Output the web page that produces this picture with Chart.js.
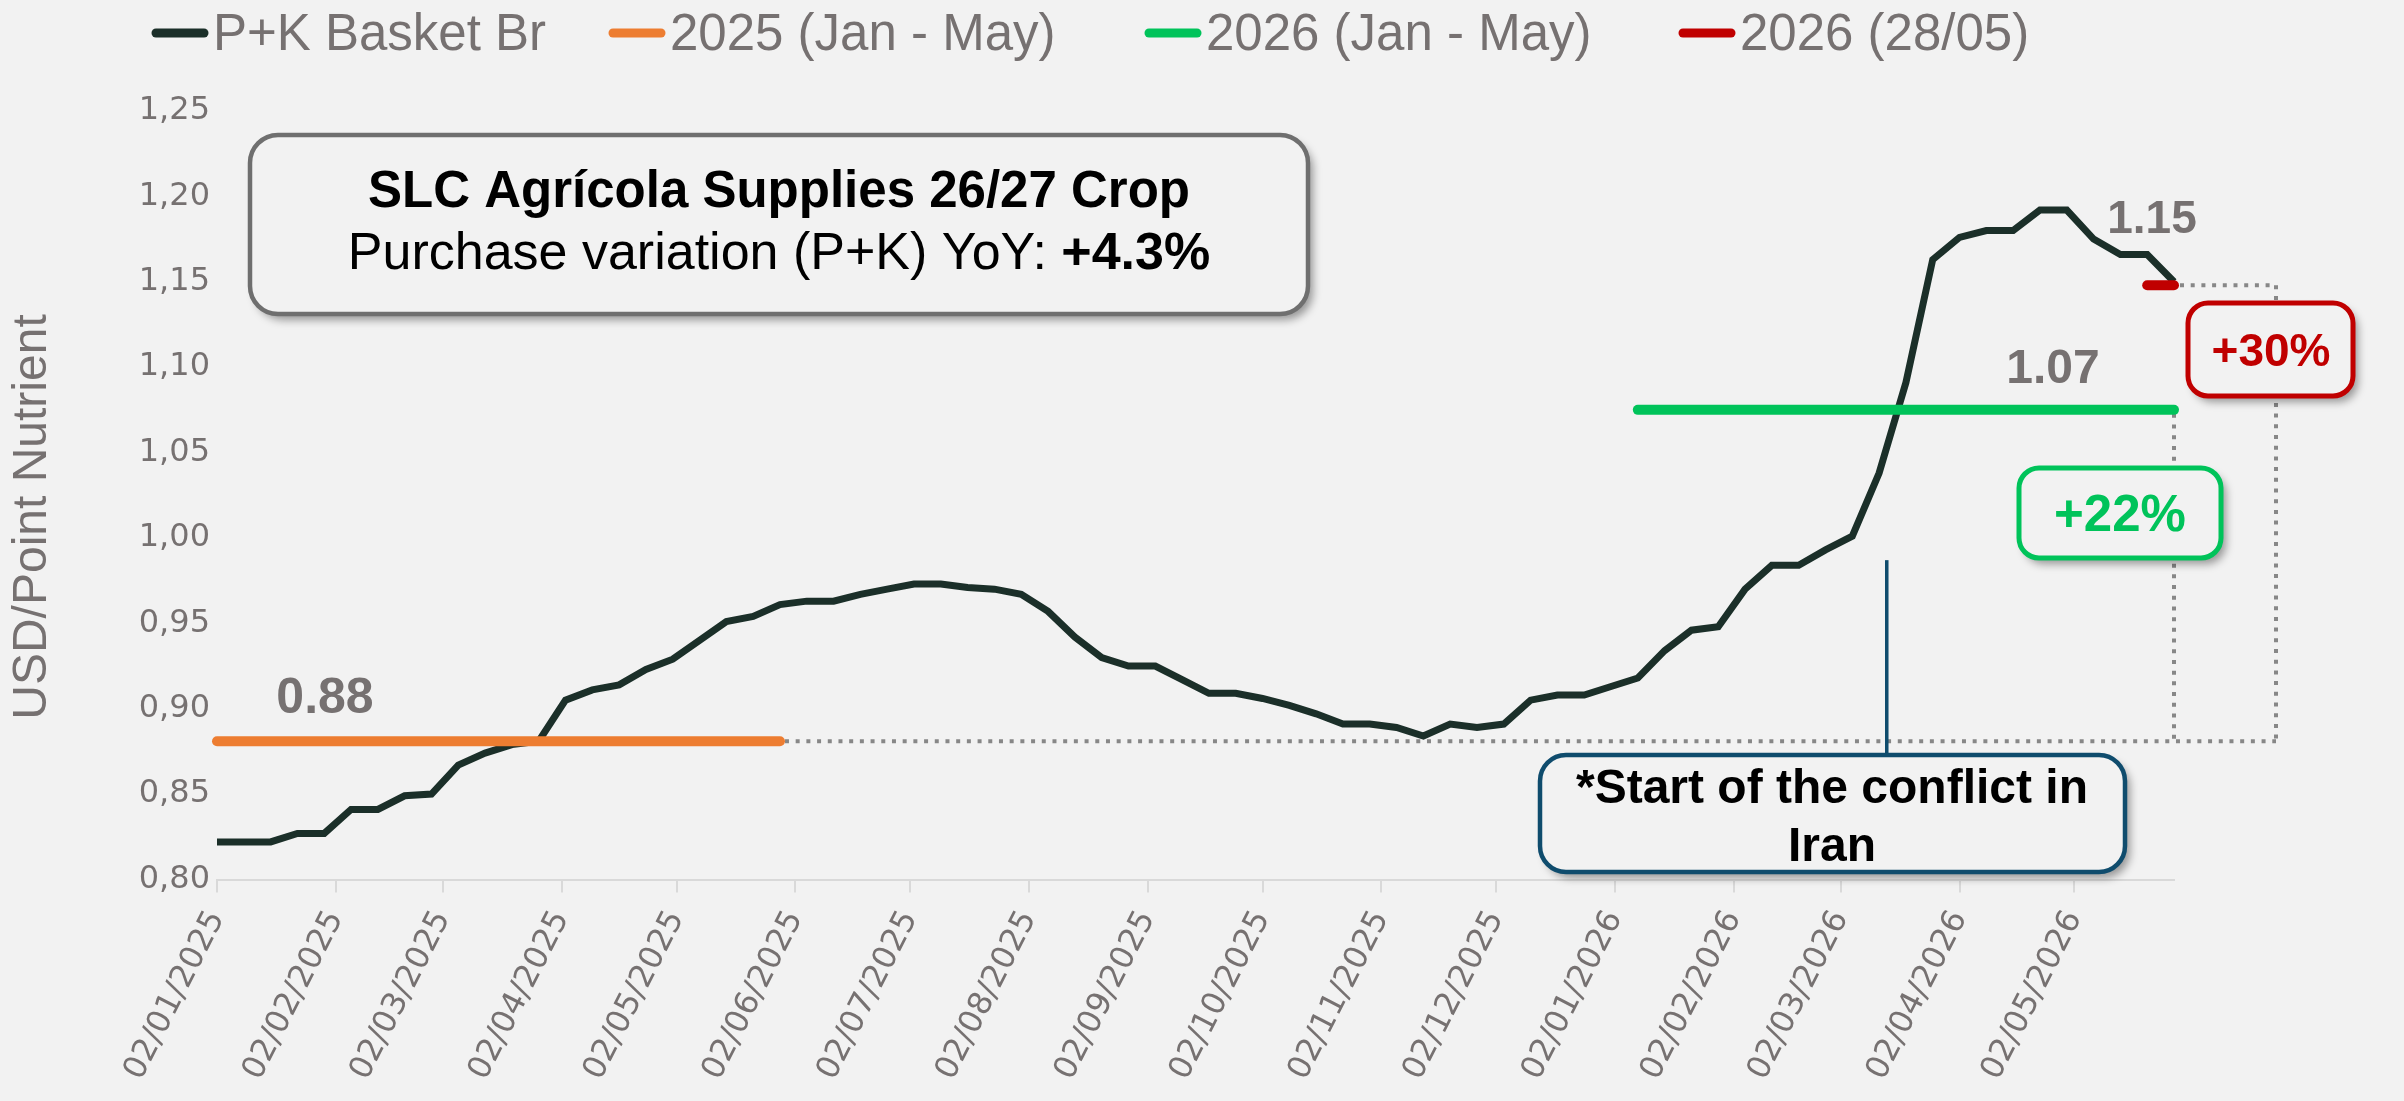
<!DOCTYPE html>
<html><head><meta charset="utf-8">
<script src="https://cdn.jsdelivr.net/npm/chart.js@4.4.1/dist/chart.umd.min.js"></script>
<style>
html,body{margin:0;padding:0;background:#f2f2f2;}
canvas{display:block;}
</style></head><body>
<canvas id="c" width="2404" height="1101"></canvas>
<script>
// ---------- DATA ----------
const weekDates = [
'02/01/2025','09/01/2025','16/01/2025','23/01/2025','30/01/2025',
'06/02/2025','13/02/2025','20/02/2025','27/02/2025',
'06/03/2025','13/03/2025','20/03/2025','27/03/2025',
'03/04/2025','10/04/2025','17/04/2025','24/04/2025',
'01/05/2025','08/05/2025','15/05/2025','22/05/2025','29/05/2025',
'05/06/2025','12/06/2025','19/06/2025','26/06/2025',
'03/07/2025','10/07/2025','17/07/2025','24/07/2025','31/07/2025',
'07/08/2025','14/08/2025','21/08/2025','28/08/2025',
'04/09/2025','11/09/2025','18/09/2025','25/09/2025',
'02/10/2025','09/10/2025','16/10/2025','23/10/2025','30/10/2025',
'06/11/2025','13/11/2025','20/11/2025','27/11/2025',
'04/12/2025','11/12/2025','18/12/2025','25/12/2025',
'01/01/2026','08/01/2026','15/01/2026','22/01/2026','29/01/2026',
'05/02/2026','12/02/2026','19/02/2026','26/02/2026',
'05/03/2026','12/03/2026','19/03/2026','26/03/2026',
'02/04/2026','09/04/2026','16/04/2026','23/04/2026','30/04/2026',
'07/05/2026','14/05/2026','21/05/2026','28/05/2026'
];
const basketValues = [
0.822,0.822,0.822,0.827,0.827,
0.841,0.841,0.849,0.850,
0.867,0.874,0.879,0.881,
0.905,0.911,0.914,0.923,
0.929,0.940,0.951,0.954,0.961,
0.963,0.963,0.967,0.970,
0.973,0.973,0.971,0.970,0.967,
0.957,0.942,0.930,0.925,
0.925,0.917,0.909,0.909,
0.906,0.902,0.897,0.891,0.891,
0.889,0.884,0.891,0.889,
0.891,0.905,0.908,0.908,
0.913,0.918,0.934,0.946,0.948,
0.970,0.984,0.984,0.993,
1.001,1.038,1.091,1.163,
1.176,1.180,1.180,1.192,1.192,
1.175,1.166,1.166,1.150
];
const avg2025Dates = ['02/01/2025','29/05/2025'];
const avg2025Value = 0.881;
const avg2026Dates = ['08/01/2026','28/05/2026'];
const avg2026Value = 1.075;
const last2026Dates = ['21/05/2026','28/05/2026'];
const last2026Value = 1.148;
const seriesNames = ['P+K Basket Br','2025 (Jan - May)','2026 (Jan - May)','2026 (28/05)'];
const tickLabels = ['02/01/2025','02/02/2025','02/03/2025','02/04/2025','02/05/2025','02/06/2025',
'02/07/2025','02/08/2025','02/09/2025','02/10/2025','02/11/2025','02/12/2025',
'02/01/2026','02/02/2026','02/03/2026','02/04/2026','02/05/2026'];
const yMin = 0.80, yMax = 1.25, yStep = 0.05;
const conflictDate = '14/03/2026';
const conflictTopValue = 0.987;
const labelAvg2025 = '0.88', labelAvg2026 = '1.07', labelLast = '1.15';
const pctAvg2026 = '+22%', pctLast = '+30%';
const infoTitle = 'SLC Agrícola Supplies 26/27 Crop';
const infoLine = 'Purchase variation (P+K) YoY: ';
const infoValue = '+4.3%';
const conflictText = ['*Start of the conflict in', 'Iran'];
const yTitle = 'USD/Point Nutrient';

// ---------- STYLE ----------
const colors = ['#1b2f29', '#ed7d31', '#00c35a', '#c00000'];
const legendX = [151, 608, 1144, 1678];
const grayText = '#767171';
const dotGray = '#878787';
const conflictBlue = '#0f4c6d';
const SANS = "'Liberation Sans', Arial, sans-serif";
const TICKF = "'DejaVu Sans', sans-serif";

function dayIndex(s) {
  const [d, m, y] = s.split('/').map(Number);
  return Math.round((Date.UTC(y, m - 1, d) - Date.UTC(2025, 0, 2)) / 86400000);
}
const pts = (dates, vals) => dates.map((d, i) => ({x: dayIndex(d), y: Array.isArray(vals) ? vals[i] : vals}));

function roundBox(ctx, x, y, w, h, r, stroke, lw) {
  ctx.save();
  ctx.shadowColor = 'rgba(0,0,0,0.38)';
  ctx.shadowBlur = 9;
  ctx.shadowOffsetX = 5;
  ctx.shadowOffsetY = 6;
  ctx.beginPath();
  ctx.roundRect(x, y, w, h, r);
  ctx.fillStyle = '#f2f2f2';
  ctx.fill();
  ctx.shadowColor = 'transparent';
  ctx.lineWidth = lw;
  ctx.strokeStyle = stroke;
  ctx.stroke();
  ctx.restore();
}
function runs(ctx, parts, cx, base) {
  let total = 0;
  parts.forEach(p => { ctx.font = p.font; p.w = ctx.measureText(p.text).width; total += p.w; });
  let x = cx - total / 2;
  ctx.textAlign = 'left';
  ctx.textBaseline = 'alphabetic';
  parts.forEach(p => { ctx.font = p.font; ctx.fillStyle = p.color; ctx.fillText(p.text, x, base); x += p.w; });
}
function dotted(ctx, x1, y1, x2, y2) {
  ctx.save();
  ctx.strokeStyle = dotGray;
  ctx.lineWidth = 4;
  ctx.setLineDash([4, 6.7]);
  ctx.beginPath();
  ctx.moveTo(x1, y1); ctx.lineTo(x2, y2);
  ctx.stroke();
  ctx.restore();
}

const decor = {
  id: 'decor',
  beforeDatasetsDraw(chart) {
    const ctx = chart.ctx, xs = chart.scales.x, ys = chart.scales.y;
    const xEnd = xs.getPixelForValue(xs.max);
    const xBr = xEnd + 102;
    const y88 = ys.getPixelForValue(avg2025Value);
    const y107 = ys.getPixelForValue(avg2026Value);
    const y115 = ys.getPixelForValue(last2026Value);
    dotted(ctx, xs.getPixelForValue(dayIndex(avg2025Dates[1])) + 5, y88, xBr, y88);
    dotted(ctx, xEnd, y107 + 4, xEnd, y88);
    dotted(ctx, xEnd + 6, y115, xBr, y115);
    dotted(ctx, xBr, y115, xBr, y88);
  },
  afterDatasetsDraw(chart) {
    const ctx = chart.ctx, xs = chart.scales.x, ys = chart.scales.y;
    const xEnd = xs.getPixelForValue(xs.max);
    const y88 = ys.getPixelForValue(avg2025Value);
    const y107 = ys.getPixelForValue(avg2026Value);
    const y115 = ys.getPixelForValue(last2026Value);
    ctx.save();
    // y axis title
    ctx.save();
    ctx.translate(33, 517);
    ctx.rotate(-Math.PI / 2);
    ctx.font = '48px ' + SANS;
    ctx.fillStyle = grayText;
    ctx.textAlign = 'center';
    ctx.textBaseline = 'middle';
    ctx.fillText(yTitle, 0, 0);
    ctx.restore();

    runs(ctx, [{text: labelAvg2025, font: 'bold 50px ' + SANS, color: grayText}], xs.getPixelForValue(dayIndex(avg2025Dates[0])) + 108, y88 - 28);
    runs(ctx, [{text: labelAvg2026, font: 'bold 48px ' + SANS, color: grayText}], xEnd - 121, y107 - 27);
    runs(ctx, [{text: labelLast, font: 'bold 46px ' + SANS, color: grayText}], xEnd - 22, y115 - 52);

    // info box
    roundBox(ctx, 250, 135, 1058, 179, 28, '#6f6f6f', 4.5);
    runs(ctx, [{text: infoTitle, font: 'bold 51px ' + SANS, color: '#000'}], 779, 207);
    runs(ctx, [{text: infoLine, font: '52px ' + SANS, color: '#000'},
               {text: infoValue, font: 'bold 52px ' + SANS, color: '#000'}], 779, 269);

    // percentage boxes
    roundBox(ctx, 2019, 468, 202, 90, 20, colors[2], 5);
    runs(ctx, [{text: pctAvg2026, font: 'bold 51px ' + SANS, color: colors[2]}], 2120, 531);
    roundBox(ctx, 2188, 303, 165, 93, 20, colors[3], 5);
    runs(ctx, [{text: pctLast, font: 'bold 46px ' + SANS, color: colors[3]}], 2271, 366);

    // conflict marker
    const xc = xs.getPixelForValue(dayIndex(conflictDate));
    ctx.strokeStyle = conflictBlue;
    ctx.lineWidth = 3.5;
    ctx.beginPath();
    ctx.moveTo(xc, ys.getPixelForValue(conflictTopValue));
    ctx.lineTo(xc, 757);
    ctx.stroke();
    roundBox(ctx, 1540, 755, 585, 117, 26, conflictBlue, 4.5);
    runs(ctx, [{text: conflictText[0], font: 'bold 48px ' + SANS, color: '#000'}], 1832, 803);
    runs(ctx, [{text: conflictText[1], font: 'bold 48px ' + SANS, color: '#000'}], 1832, 861);

    // legend
    const ly = 33;
    seriesNames.forEach((name, i) => {
      const x = legendX[i];
      ctx.strokeStyle = colors[i];
      ctx.lineWidth = 9;
      ctx.lineCap = 'round';
      ctx.beginPath();
      ctx.moveTo(x + 5, ly); ctx.lineTo(x + 53, ly);
      ctx.stroke();
      ctx.font = '51px ' + SANS;
      ctx.fillStyle = grayText;
      ctx.textAlign = 'left';
      ctx.textBaseline = 'alphabetic';
      ctx.fillText(name, x + 62, 50);
    });
    ctx.restore();
  }
};

const lineDs = (label, data, color, width, order, cap) => ({
  label, data, borderColor: color, backgroundColor: color, borderWidth: width,
  pointRadius: 0, pointHoverRadius: 0, tension: 0, fill: false, order,
  borderCapStyle: cap, clip: false
});

new Chart(document.getElementById('c'), {
  type: 'line',
  data: {
    datasets: [
      lineDs(seriesNames[0], pts(weekDates, basketValues), colors[0], 7, 2, 'butt'),
      lineDs(seriesNames[1], pts(avg2025Dates, avg2025Value), colors[1], 10, 1, 'round'),
      lineDs(seriesNames[2], pts(avg2026Dates, avg2026Value), colors[2], 10, 1, 'round'),
      lineDs(seriesNames[3], pts(last2026Dates, last2026Value), colors[3], 10, 0, 'round')
    ]
  },
  options: {
    responsive: false,
    animation: false,
    devicePixelRatio: 1,
    layout: {padding: {top: 111, right: 230, bottom: 0, left: 0}},
    plugins: {legend: {display: false}, tooltip: {enabled: false}, title: {display: false}},
    scales: {
      x: {
        type: 'linear',
        min: dayIndex(weekDates[0]),
        max: dayIndex(weekDates[weekDates.length - 1]),
        afterBuildTicks: s => { s.ticks = tickLabels.map(l => ({value: dayIndex(l)})); },
        afterFit: s => { s.height = 221.5; },
        ticks: {
          autoSkip: false, minRotation: 63, maxRotation: 63,
          font: {family: TICKF, size: 32}, color: grayText, padding: 12,
          callback: (v, i) => tickLabels[i]
        },
        grid: {display: true, drawOnChartArea: false, drawTicks: true, tickLength: 13, color: '#d9d9d9', lineWidth: 2},
        border: {display: true, color: '#d9d9d9', width: 2}
      },
      y: {
        min: yMin, max: yMax,
        afterFit: s => { s.width = 217; },
        ticks: {
          stepSize: yStep,
          font: {family: TICKF, size: 32}, color: grayText, padding: 7,
          callback: v => v.toFixed(2).replace('.', ',')
        },
        grid: {display: false, drawTicks: false},
        border: {display: false},
        title: {display: false}
      }
    }
  },
  plugins: [decor]
});
</script>
</body></html>
